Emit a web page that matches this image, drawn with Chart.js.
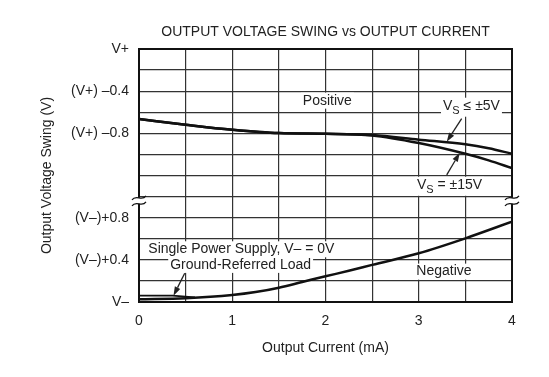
<!DOCTYPE html>
<html>
<head>
<meta charset="utf-8">
<script src="https://cdn.jsdelivr.net/npm/chart.js@4.4.1/dist/chart.umd.min.js"></script>
<style>
  body { margin: 0; background: #fff; }
  canvas { display: block; }
</style>
</head>
<body>
<canvas id="swing" width="549" height="377"></canvas>
<script>
// data (y in 0.2 V steps: 0 = V-, 12 = V+)
const chartTitle = 'OUTPUT VOLTAGE SWING vs OUTPUT CURRENT';
const xTitle = 'Output Current (mA)';
const yTitle = 'Output Voltage Swing (V)';

const currentPos = [0, 0.5, 1, 1.5, 2, 2.5, 3, 3.5, 3.75, 4];
const swing5V   = [8.68, 8.41, 8.17, 8.01, 7.98, 7.92, 7.70, 7.48, 7.29, 7.03];
const swing15V  = [8.68, 8.41, 8.17, 8.01, 7.98, 7.90, 7.54, 7.03, 6.72, 6.35];

const currentNeg = [0, 0.5, 1, 1.25, 1.5, 1.75, 2, 2.25, 2.5, 3, 3.5, 4];
const swingNeg   = [0.13, 0.18, 0.33, 0.47, 0.68, 0.95, 1.22, 1.48, 1.76, 2.31, 3.02, 3.81];

const currentGnd = [0, 0.36, 0.6];
const swingGnd   = [0.30, 0.30, 0.22];

const xTickValues = [0, 1, 2, 3, 4];
const yTickValues = [0, 2, 4, 8, 10, 12];
const yTickLabels = ['V\u2013', '(V\u2013)+0.4', '(V\u2013)+0.8', '(V+) \u20130.8', '(V+) \u20130.4', 'V+'];
const axisBreakAt = 4.8;

const FONT = 'Arial, "Liberation Sans", sans-serif';
const INK = '#222';

const pts = (xs, ys) => xs.map((v, i) => ({x: v, y: ys[i]}));

// text with a white box behind it, like the datasheet
function boxText(ctx, txt, x, y, align) {
    ctx.font = '14px ' + FONT;
    const w = ctx.measureText(txt).width;
    const left = align === 'left' ? x : x - w / 2;
    ctx.fillStyle = '#fff';
    ctx.fillRect(left - 2, y - 8, w + 4, 16);
    ctx.fillStyle = INK;
    ctx.textAlign = 'left';
    ctx.textBaseline = 'middle';
    ctx.fillText(txt, left, y);
}

// V with subscript S, then the rest
function vsText(ctx, rest, x, y) {
    ctx.font = '14px ' + FONT;
    const wV = ctx.measureText('V').width;
    const wR = ctx.measureText(rest).width;
    ctx.font = '11px ' + FONT;
    const wS = ctx.measureText('S').width;
    ctx.fillStyle = '#fff';
    ctx.fillRect(x - 2, y - 8, wV + wS + wR + 4, 19);
    ctx.fillStyle = INK;
    ctx.textAlign = 'left';
    ctx.textBaseline = 'middle';
    ctx.font = '14px ' + FONT;
    ctx.fillText('V', x, y);
    ctx.fillText(rest, x + wV + wS, y);
    ctx.font = '11px ' + FONT;
    ctx.fillText('S', x + wV, y + 5);
}

function arrow(ctx, x1, y1, x2, y2) {
    const ang = Math.atan2(y2 - y1, x2 - x1);
    const len = 9, half = 3;
    ctx.strokeStyle = INK;
    ctx.lineWidth = 1.3;
    ctx.beginPath();
    ctx.moveTo(x1, y1);
    ctx.lineTo(x2 - Math.cos(ang) * len, y2 - Math.sin(ang) * len);
    ctx.stroke();
    ctx.fillStyle = INK;
    ctx.beginPath();
    ctx.moveTo(x2, y2);
    ctx.lineTo(x2 - Math.cos(ang) * len + Math.sin(ang) * half, y2 - Math.sin(ang) * len - Math.cos(ang) * half);
    ctx.lineTo(x2 - Math.cos(ang) * len - Math.sin(ang) * half, y2 - Math.sin(ang) * len + Math.cos(ang) * half);
    ctx.closePath();
    ctx.fill();
}

const notes = {
    id: 'notes',
    afterDraw(chart) {
        const {ctx, chartArea: a, scales: {x, y}} = chart;
        const px = v => x.getPixelForValue(v);
        const py = v => y.getPixelForValue(v);
        ctx.save();

        // frame
        ctx.strokeStyle = '#111';
        ctx.lineWidth = 2;
        ctx.strokeRect(a.left, a.top, a.right - a.left, a.bottom - a.top);

        // axis break marks
        const by = py(axisBreakAt);
        [a.left, a.right].forEach(bx => {
            ctx.fillStyle = '#fff';
            ctx.fillRect(bx - 7, by - 3, 14, 6);
            ctx.strokeStyle = '#111';
            ctx.lineWidth = 1.2;
            [-3, 3].forEach(off => {
                ctx.beginPath();
                ctx.moveTo(bx - 7, by + off + 2);
                ctx.bezierCurveTo(bx - 3, by + off - 4, bx + 3, by + off + 4, bx + 7, by + off - 2);
                ctx.stroke();
            });
        });

        // titles
        ctx.fillStyle = INK;
        ctx.font = '14px ' + FONT;
        ctx.textAlign = 'center';
        ctx.textBaseline = 'middle';
        ctx.fillText(chartTitle, (a.left + a.right) / 2, a.top - 17);
        ctx.fillText(xTitle, (a.left + a.right) / 2, 348);
        ctx.save();
        ctx.translate(47, (a.top + a.bottom) / 2);
        ctx.rotate(-Math.PI / 2);
        ctx.fillText(yTitle, 0, 0);
        ctx.restore();

        // labels
        boxText(ctx, 'Positive', px(2.02), py(9.55), 'center');
        boxText(ctx, 'Negative', px(3.27), py(1.44), 'center');
        boxText(ctx, 'Single Power Supply, V\u2013 = 0V', px(0.10), py(2.50), 'left');
        boxText(ctx, 'Ground-Referred Load', px(1.09), py(1.76), 'center');
        vsText(ctx, ' \u2264 \u00b15V', px(3.26), py(9.31));
        vsText(ctx, ' = \u00b115V', px(2.98), py(5.56));

        // pointers
        arrow(ctx, px(3.46), py(8.70), px(3.30), py(7.60));
        arrow(ctx, px(3.30), py(6.03), px(3.44), py(7.08));
        arrow(ctx, px(0.49), py(1.36), px(0.37), py(0.30));

        ctx.restore();
    }
};

const lineStyle = {
    borderColor: '#111',
    borderWidth: 2.5,
    pointRadius: 0,
    cubicInterpolationMode: 'monotone',
    fill: false
};

new Chart(document.getElementById('swing'), {
    type: 'line',
    data: {
        datasets: [
            Object.assign({label: 'VS <= 5V', data: pts(currentPos, swing5V)}, lineStyle),
            Object.assign({label: 'VS = 15V', data: pts(currentPos, swing15V)}, lineStyle),
            Object.assign({label: 'Negative', data: pts(currentNeg, swingNeg)}, lineStyle),
            Object.assign({label: 'Ground-Referred', data: pts(currentGnd, swingGnd)}, lineStyle,
                {borderWidth: 1.8, cubicInterpolationMode: 'default', tension: 0})
        ]
    },
    options: {
        responsive: false,
        animation: false,
        layout: {padding: {left: 0, right: 37, top: 49, bottom: 0}},
        plugins: {legend: {display: false}, title: {display: false}, tooltip: {enabled: false}},
        scales: {
            x: {
                type: 'linear',
                min: 0, max: 4,
                afterFit: s => { s.height = 75; },
                grid: {color: '#333', lineWidth: 1.2, drawTicks: false},
                border: {display: false},
                ticks: {
                    stepSize: 0.5,
                    padding: 11,
                    color: INK,
                    font: {size: 14, family: FONT},
                    maxRotation: 0,
                    autoSkip: false,
                    callback: v => xTickValues.includes(v) ? String(v) : ''
                }
            },
            y: {
                type: 'linear',
                min: 0, max: 12,
                afterFit: s => { s.width = 139; },
                grid: {color: '#333', lineWidth: 1.2, drawTicks: false},
                border: {display: false},
                ticks: {
                    stepSize: 1,
                    padding: 10,
                    color: INK,
                    font: {size: 14, family: FONT},
                    autoSkip: false,
                    callback: v => {
                        const i = yTickValues.indexOf(v);
                        return i >= 0 ? yTickLabels[i] : '';
                    }
                }
            }
        }
    },
    plugins: [notes]
});
</script>
</body>
</html>
